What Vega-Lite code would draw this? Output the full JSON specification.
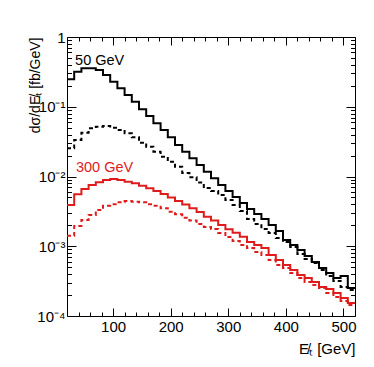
{
  "$schema": "https://vega.github.io/schema/vega-lite/v6.json",
  "width": 288,
  "height": 279,
  "autosize": {"type": "none"},
  "padding": {"left": 67, "top": 37, "right": 19, "bottom": 51},
  "background": "white",
  "config": {
    "view": {"stroke": "#000", "strokeWidth": 1},
    "font": "Liberation Sans",
    "axis": {"grid": false, "domain": false, "tickColor": "#000", "tickWidth": 1, "labelColor": "#000", "titleColor": "#000", "labelFont": "Liberation Sans", "titleFont": "Liberation Sans", "labelFontSize": 15, "titleFontSize": 14, "titleFontWeight": "normal", "labelFlush": false}
  },
  "datasets": {
    "h": [
      {"x": 20, "bs": 0.2474, "bd": 0.02537, "rs": 0.0039, "rd": 0.001417},
      {"x": 32.5, "bs": 0.3181, "bd": 0.03336, "rs": 0.00556, "rd": 0.00195},
      {"x": 45, "bs": 0.3558, "bd": 0.04246, "rs": 0.00662, "rd": 0.00238},
      {"x": 57.5, "bs": 0.3558, "bd": 0.04911, "rs": 0.00755, "rd": 0.00281},
      {"x": 70, "bs": 0.3363, "bd": 0.05176, "rs": 0.00825, "rd": 0.00331},
      {"x": 82.5, "bs": 0.2852, "bd": 0.05297, "rs": 0.00891, "rd": 0.00381},
      {"x": 95, "bs": 0.2286, "bd": 0.05007, "rs": 0.00921, "rd": 0.00399},
      {"x": 107.5, "bs": 0.1839, "bd": 0.04642, "rs": 0.00891, "rd": 0.00427},
      {"x": 120, "bs": 0.1474, "bd": 0.04162, "rs": 0.00842, "rd": 0.00445},
      {"x": 132.5, "bs": 0.1181, "bd": 0.03648, "rs": 0.00799, "rd": 0.00435},
      {"x": 145, "bs": 0.0919, "bd": 0.03052, "rs": 0.00738, "rd": 0.00427},
      {"x": 157.5, "bs": 0.0737, "bd": 0.02675, "rs": 0.00677, "rd": 0.00399},
      {"x": 170, "bs": 0.0579, "bd": 0.02268, "rs": 0.0062, "rd": 0.00381},
      {"x": 182.5, "bs": 0.0464, "bd": 0.01922, "rs": 0.00561, "rd": 0.0035},
      {"x": 195, "bs": 0.0365, "bd": 0.01631, "rs": 0.005, "rd": 0.00313},
      {"x": 207.5, "bs": 0.0283, "bd": 0.01382, "rs": 0.00445, "rd": 0.00287},
      {"x": 220, "bs": 0.02268, "bd": 0.01122, "rs": 0.00397, "rd": 0.00257},
      {"x": 232.5, "bs": 0.01823, "bd": 0.00974, "rs": 0.0035, "rd": 0.00234},
      {"x": 245, "bs": 0.01462, "bd": 0.0082, "rs": 0.0031, "rd": 0.00208},
      {"x": 257.5, "bs": 0.01172, "bd": 0.00684, "rs": 0.00265, "rd": 0.00189},
      {"x": 270, "bs": 0.00942, "bd": 0.0062, "rs": 0.00234, "rd": 0.00177},
      {"x": 282.5, "bs": 0.00755, "bd": 0.00543, "rs": 0.00202, "rd": 0.00155},
      {"x": 295, "bs": 0.0062, "bd": 0.0046, "rs": 0.00175, "rd": 0.00136},
      {"x": 307.5, "bs": 0.00508, "bd": 0.0039, "rs": 0.00156, "rd": 0.00119},
      {"x": 320, "bs": 0.00417, "bd": 0.0032, "rs": 0.00137, "rd": 0.00104},
      {"x": 332.5, "bs": 0.00342, "bd": 0.00246, "rs": 0.00115, "rd": 0.000944},
      {"x": 345, "bs": 0.0029, "bd": 0.00208, "rs": 0.00104, "rd": 0.000827},
      {"x": 357.5, "bs": 0.00246, "bd": 0.00177, "rs": 0.000944, "rd": 0.000749},
      {"x": 370, "bs": 0.00202, "bd": 0.00155, "rs": 0.000749, "rd": 0.000635},
      {"x": 382.5, "bs": 0.00165, "bd": 0.00131, "rs": 0.000635, "rd": 0.000538},
      {"x": 395, "bs": 0.00123, "bd": 0.00115, "rs": 0.000538, "rd": 0.000488},
      {"x": 407.5, "bs": 0.00104, "bd": 0.000976, "rs": 0.000457, "rd": 0.000413},
      {"x": 420, "bs": 0.000884, "bd": 0.000774, "rs": 0.000387, "rd": 0.00035},
      {"x": 432.5, "bs": 0.000725, "bd": 0.000657, "rs": 0.00035, "rd": 0.000307},
      {"x": 445, "bs": 0.000594, "bd": 0.000575, "rs": 0.000307, "rd": 0.000278},
      {"x": 457.5, "bs": 0.000488, "bd": 0.000457, "rs": 0.00026, "rd": 0.000252},
      {"x": 470, "bs": 0.000413, "bd": 0.000375, "rs": 0.000244, "rd": 0.000214},
      {"x": 482.5, "bs": 0.00035, "bd": 0.000318, "rs": 0.000214, "rd": 0.000187},
      {"x": 495, "bs": 0.000375, "bd": 0.00026, "rs": 0.000181, "rd": 0.000164},
      {"x": 507.5, "bs": 0.000252, "bd": 0.000236, "rs": 0.000154, "rd": 0.000144},
      {"x": 520, "bs": 0.000252, "bd": 0.000236, "rs": 0.000154, "rd": 0.000144}
    ],
    "t": [
      {"x": 34, "y": 0.397, "label": "50 GeV"},
      {"x": 35.5, "y": 0.01172, "label": "300 GeV"}
    ]
  },
  "resolve": {"axis": {"x": "independent", "y": "independent"}, "scale": {"color": "independent"}},
  "layer": [
    {
      "data": {"name": "h"},
      "transform": [{"fold": ["bs", "bd", "rs", "rd"], "as": ["s", "v"]}],
      "mark": {"type": "line", "interpolate": "step-after", "strokeWidth": 2},
      "encoding": {
        "x": {"field": "x", "type": "quantitative", "scale": {"domain": [20, 520], "nice": false, "zero": false},
          "axis": {"orient": "bottom", "values": [100, 200, 300, 400, 500], "tickSize": -8, "labelPadding": 11, "title": "E̸ₜ [GeV]", "titleFontSize": 15, "titleAnchor": "end", "titleBaseline": "alphabetic", "titleY": 37}},
        "y": {"field": "v", "type": "quantitative", "scale": {"type": "log", "domain": [0.0001, 1], "nice": false},
          "axis": {"orient": "left", "values": [0.0001, 0.001, 0.01, 0.1, 1], "tickSize": -9, "labelPadding": 11,
            "labelExpr": "datum.value >= 0.5 ? '1' : datum.value >= 0.05 ? '10⁻¹' : datum.value >= 0.005 ? '10⁻²' : datum.value >= 0.0005 ? '10⁻³' : '10⁻⁴'",
            "title": "dσ/dE̸ₜ [fb/GeV]", "titleAnchor": "end", "titleX": -28, "titleBaseline": "alphabetic"}},
        "color": {"field": "s", "type": "nominal", "scale": {"domain": ["bs", "bd", "rs", "rd"], "range": ["#000000", "#000000", "#e01b1b", "#e01b1b"]}, "legend": null},
        "strokeDash": {"field": "s", "type": "nominal", "scale": {"domain": ["bs", "bd", "rs", "rd"], "range": [[1, 0], [4, 3], [1, 0], [4, 3]]}, "legend": null}
      }
    },
    {
      "data": {"name": "t"},
      "mark": {"type": "text", "align": "left", "baseline": "alphabetic", "fontSize": 14.5, "font": "Liberation Sans"},
      "encoding": {
        "x": {"field": "x", "type": "quantitative", "scale": {"domain": [20, 520], "nice": false, "zero": false},
          "axis": {"orient": "bottom", "values": [40, 60, 80, 120, 140, 160, 180, 220, 240, 260, 280, 320, 340, 360, 380, 420, 440, 460, 480], "tickSize": -4, "labels": false, "title": null}},
        "y": {"field": "y", "type": "quantitative", "scale": {"type": "log", "domain": [0.0001, 1], "nice": false},
          "axis": {"orient": "left", "values": [0.0002, 0.0003, 0.0004, 0.0005, 0.0006, 0.0007, 0.0008, 0.0009, 0.002, 0.003, 0.004, 0.005, 0.006, 0.007, 0.008, 0.009, 0.02, 0.03, 0.04, 0.05, 0.06, 0.07, 0.08, 0.09, 0.2, 0.3, 0.4, 0.5, 0.6, 0.7, 0.8, 0.9], "tickSize": -4.5, "labels": false, "title": null}},
        "text": {"field": "label"},
        "color": {"field": "label", "type": "nominal", "scale": {"domain": ["50 GeV", "300 GeV"], "range": ["#000000", "#e01b1b"]}, "legend": null}
      }
    },
    {
      "data": {"name": "t"},
      "mark": {"type": "text", "opacity": 0},
      "encoding": {
        "x": {"field": "x", "type": "quantitative", "scale": {"domain": [20, 520], "nice": false, "zero": false},
          "axis": {"orient": "top", "values": [100, 200, 300, 400, 500], "tickSize": -8, "labels": false, "title": null}},
        "y": {"field": "y", "type": "quantitative", "scale": {"type": "log", "domain": [0.0001, 1], "nice": false},
          "axis": {"orient": "right", "values": [0.0001, 0.001, 0.01, 0.1, 1], "tickSize": -9, "labels": false, "title": null}},
        "text": {"field": "label"}
      }
    },
    {
      "data": {"name": "t"},
      "mark": {"type": "text", "opacity": 0},
      "encoding": {
        "x": {"field": "x", "type": "quantitative", "scale": {"domain": [20, 520], "nice": false, "zero": false},
          "axis": {"orient": "top", "values": [40, 60, 80, 120, 140, 160, 180, 220, 240, 260, 280, 320, 340, 360, 380, 420, 440, 460, 480], "tickSize": -4, "labels": false, "title": null}},
        "y": {"field": "y", "type": "quantitative", "scale": {"type": "log", "domain": [0.0001, 1], "nice": false},
          "axis": {"orient": "right", "values": [0.0002, 0.0003, 0.0004, 0.0005, 0.0006, 0.0007, 0.0008, 0.0009, 0.002, 0.003, 0.004, 0.005, 0.006, 0.007, 0.008, 0.009, 0.02, 0.03, 0.04, 0.05, 0.06, 0.07, 0.08, 0.09, 0.2, 0.3, 0.4, 0.5, 0.6, 0.7, 0.8, 0.9], "tickSize": -4.5, "labels": false, "title": null}},
        "text": {"field": "label"}
      }
    }
  ]
}
